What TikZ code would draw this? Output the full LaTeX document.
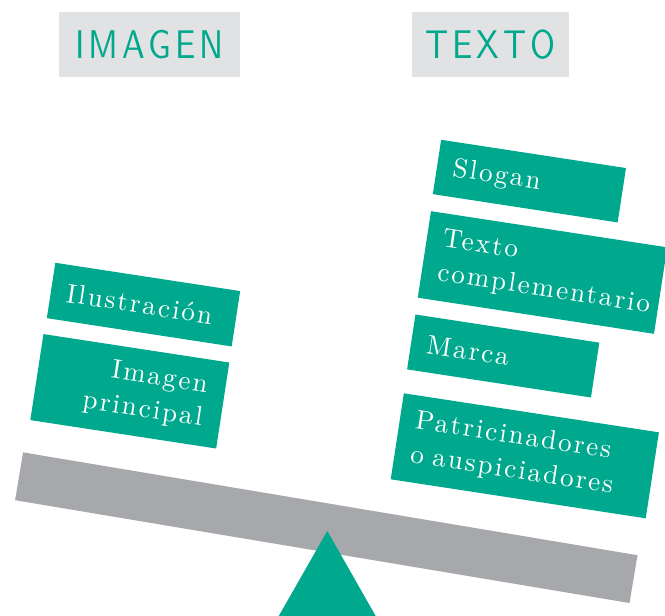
\documentclass[tikz,border=0pt]{standalone}
\usepackage{fontspec}
\usepackage{xcolor}
\usepackage{tikz}
\usetikzlibrary{positioning, shapes.geometric}
\setmainfont{lmroman10-regular.otf}[LetterSpace=8]
\newfontfamily\titlefont{lmsans10-regular.otf}[LetterSpace=10, FakeStretch=0.85]
\definecolor{verde}{RGB}{0,168,142}
\definecolor{grisclaro}{RGB}{225,226,228}
\definecolor{gris}{RGB}{167,168,171}

\begin{document}
\begin{tikzpicture}[x=1pt,y=-1pt,
		titulo/.style = {fill=grisclaro, text=verde, inner sep=0pt, minimum height=65pt, font=\titlefont\fontsize{40}{40}\selectfont},
		caja/.style = {fill=verde, text=white, rotate=-8.7, inner xsep=16pt, inner ysep=0pt, align=left, font=\fontsize{27}{34}\selectfont},
		barra/.style = {fill=gris, rotate=-9.5, inner sep=0pt, minimum width=623pt, minimum height=48.5pt}]
		\useasboundingbox (0,0) rectangle (665,616);
		\node[titulo, minimum width=181pt] (imagen) at (149.5,44.5) {IMAGEN};
		\node[titulo, minimum width=157pt] (texto) at (490.5,44.5) {TEXTO};
		\node[barra] (balanza) at (326.3,527.7) {};
		\fill[verde] (327.3,531) -- (276.5,620) -- (378,620) -- cycle;
		\node[caja, text width=155pt, minimum height=55pt] (slogan) at (529.4,181.1) {Slogan};
		\node[caja, text width=207pt, minimum height=87.5pt] (complementario) at (542.5,272.5) {Texto\\complementario};
		\node[caja, text width=154pt, minimum height=55.5pt] (marca) at (503.2,356) {Marca};
		\node[caja, text width=226pt, minimum height=87pt] (patrocinadores) at (524.8,455.8) {Patricinadores\\o auspiciadores};
		\node[caja, text width=155pt, minimum height=56pt] (ilustracion) at (143.5,304.6) {Ilustración};
		\node[caja, text width=152pt, minimum height=87pt, inner xsep=18pt, align=right] (principal) at (129.8,391.3) {Imagen\\principal};
	\end{tikzpicture}
\end{document}
